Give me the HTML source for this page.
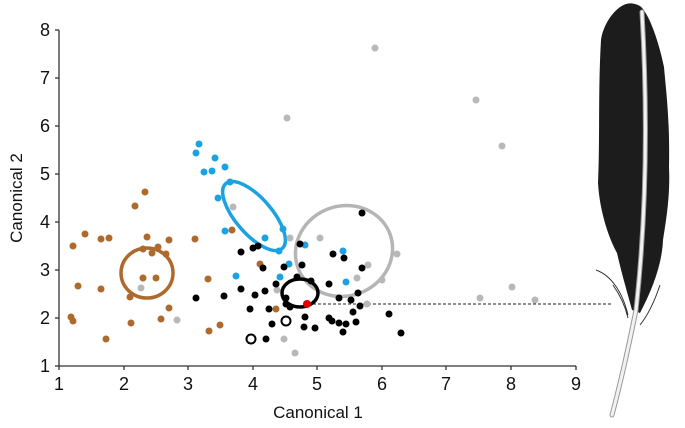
<!DOCTYPE html>
<html><head><meta charset="utf-8"><style>
html,body{margin:0;padding:0;background:#fff;}
svg{display:block;font-family:"Liberation Sans",Arial,sans-serif;}
</style></head><body>
<svg width="685" height="428" viewBox="0 0 685 428" xmlns="http://www.w3.org/2000/svg">
<g stroke="#333" stroke-width="1.3" fill="none">
<line x1="59" y1="30" x2="59" y2="366"/>
<line x1="59" y1="366" x2="576" y2="366"/>
<line x1="55" y1="30" x2="59" y2="30"/><line x1="55" y1="78" x2="59" y2="78"/><line x1="55" y1="126" x2="59" y2="126"/><line x1="55" y1="174" x2="59" y2="174"/><line x1="55" y1="222" x2="59" y2="222"/><line x1="55" y1="270" x2="59" y2="270"/><line x1="55" y1="318" x2="59" y2="318"/><line x1="55" y1="366" x2="59" y2="366"/>
<line x1="59" y1="366" x2="59" y2="370"/><line x1="124" y1="366" x2="124" y2="370"/><line x1="188" y1="366" x2="188" y2="370"/><line x1="253" y1="366" x2="253" y2="370"/><line x1="317" y1="366" x2="317" y2="370"/><line x1="382" y1="366" x2="382" y2="370"/><line x1="446" y1="366" x2="446" y2="370"/><line x1="511" y1="366" x2="511" y2="370"/><line x1="576" y1="366" x2="576" y2="370"/>
</g>
<g font-size="18" fill="#111" text-anchor="end">
<text x="50" y="36">8</text><text x="50" y="84">7</text><text x="50" y="132">6</text><text x="50" y="180">5</text><text x="50" y="228">4</text><text x="50" y="276">3</text><text x="50" y="324">2</text><text x="50" y="372">1</text>
</g>
<g font-size="18" fill="#111" text-anchor="middle">
<text x="59" y="390">1</text><text x="124" y="390">2</text><text x="188" y="390">3</text><text x="253" y="390">4</text><text x="317" y="390">5</text><text x="382" y="390">6</text><text x="446" y="390">7</text><text x="511" y="390">8</text><text x="576" y="390">9</text>
</g>
<g font-size="17" fill="#111" text-anchor="middle">
<text x="318" y="418">Canonical 1</text>
<text transform="translate(22,198) rotate(-90)">Canonical 2</text>
</g>
<line x1="308" y1="304" x2="612" y2="304" stroke="#222" stroke-width="1" stroke-dasharray="3,2"/>
<ellipse cx="147" cy="273" rx="26" ry="25" fill="none" stroke="#ad6a2c" stroke-width="3.5"/>
<ellipse cx="254" cy="216" rx="43" ry="18" transform="rotate(49 254 216)" fill="none" stroke="#1aa3e0" stroke-width="3.5"/>
<ellipse cx="344" cy="251" rx="49" ry="45" transform="rotate(-20 344 251)" fill="none" stroke="#b5b5b5" stroke-width="3.5"/>
<ellipse cx="300" cy="293" rx="18" ry="14" fill="none" stroke="#000" stroke-width="3.5"/>
<g fill="#ad6a2c">
<circle cx="73" cy="246" r="3.5"/><circle cx="78" cy="286" r="3.5"/><circle cx="71" cy="317" r="3.5"/><circle cx="73" cy="321" r="3.5"/><circle cx="85" cy="234" r="3.5"/><circle cx="101" cy="239" r="3.5"/><circle cx="109" cy="238" r="3.5"/><circle cx="101" cy="289" r="3.5"/><circle cx="106" cy="339" r="3.5"/><circle cx="135" cy="206" r="3.5"/><circle cx="145" cy="192" r="3.5"/><circle cx="147" cy="237" r="3.5"/><circle cx="143" cy="249" r="3.5"/><circle cx="152" cy="253" r="3.5"/><circle cx="158" cy="247" r="3.5"/><circle cx="166" cy="254" r="3.5"/><circle cx="143" cy="278" r="3.5"/><circle cx="156" cy="278" r="3.5"/><circle cx="130" cy="297" r="3.5"/><circle cx="131" cy="323" r="3.5"/><circle cx="161" cy="319" r="3.5"/><circle cx="169" cy="308" r="3.5"/><circle cx="169" cy="240" r="3.5"/><circle cx="195" cy="239" r="3.5"/><circle cx="208" cy="279" r="3.5"/><circle cx="209" cy="331" r="3.5"/><circle cx="220" cy="325" r="3.5"/><circle cx="232" cy="230" r="3.5"/><circle cx="260" cy="264" r="3.5"/><circle cx="276" cy="309" r="3.5"/>
</g>
<g fill="#b8b8b8">
<circle cx="141" cy="288" r="3.5"/><circle cx="177" cy="320" r="3.5"/><circle cx="233" cy="207" r="3.5"/><circle cx="290" cy="238" r="3.5"/><circle cx="320" cy="238" r="3.5"/><circle cx="368" cy="265" r="3.5"/><circle cx="397" cy="254" r="3.5"/><circle cx="357" cy="278" r="3.5"/><circle cx="382" cy="280" r="3.5"/><circle cx="367" cy="304" r="3.5"/><circle cx="284" cy="339" r="3.5"/><circle cx="295" cy="353" r="3.5"/><circle cx="277" cy="290" r="3.5"/><circle cx="287" cy="118" r="3.5"/><circle cx="375" cy="48" r="3.5"/><circle cx="476" cy="100" r="3.5"/><circle cx="502" cy="146" r="3.5"/><circle cx="512" cy="287" r="3.5"/><circle cx="480" cy="298" r="3.5"/><circle cx="535" cy="300" r="3.5"/>
</g>
<g fill="#1aa3e0">
<circle cx="199" cy="144" r="3.5"/><circle cx="196" cy="153" r="3.5"/><circle cx="215" cy="158" r="3.5"/><circle cx="225" cy="167" r="3.5"/><circle cx="204" cy="172" r="3.5"/><circle cx="212" cy="171" r="3.5"/><circle cx="230" cy="182" r="3.5"/><circle cx="218" cy="198" r="3.5"/><circle cx="225" cy="231" r="3.5"/><circle cx="236" cy="276" r="3.5"/><circle cx="265" cy="238" r="3.5"/><circle cx="283" cy="229" r="3.5"/><circle cx="279" cy="251" r="3.5"/><circle cx="289" cy="264" r="3.5"/><circle cx="280" cy="277" r="3.5"/><circle cx="305" cy="245" r="3.5"/><circle cx="343" cy="251" r="3.5"/><circle cx="346" cy="282" r="3.5"/>
</g>
<g fill="#000">
<circle cx="196" cy="298" r="3.5"/><circle cx="224" cy="296" r="3.5"/><circle cx="241" cy="252" r="3.5"/><circle cx="253" cy="248" r="3.5"/><circle cx="258" cy="246" r="3.5"/><circle cx="263" cy="268" r="3.5"/><circle cx="241" cy="289" r="3.5"/><circle cx="255" cy="295" r="3.5"/><circle cx="265" cy="291" r="3.5"/><circle cx="276" cy="284" r="3.5"/><circle cx="250" cy="309" r="3.5"/><circle cx="269" cy="309" r="3.5"/><circle cx="272" cy="324" r="3.5"/><circle cx="266" cy="339" r="3.5"/><circle cx="284" cy="267" r="3.5"/><circle cx="300" cy="244" r="3.5"/><circle cx="302" cy="265" r="3.5"/><circle cx="297" cy="277" r="3.5"/><circle cx="311" cy="281" r="3.5"/><circle cx="290" cy="307" r="3.5"/><circle cx="305" cy="317" r="3.5"/><circle cx="304" cy="327" r="3.5"/><circle cx="315" cy="328" r="3.5"/><circle cx="329" cy="284" r="3.5"/><circle cx="333" cy="254" r="3.5"/><circle cx="344" cy="258" r="3.5"/><circle cx="362" cy="268" r="3.5"/><circle cx="362" cy="213" r="3.5"/><circle cx="339" cy="298" r="3.5"/><circle cx="351" cy="300" r="3.5"/><circle cx="358" cy="293" r="3.5"/><circle cx="360" cy="306" r="3.5"/><circle cx="353" cy="312" r="3.5"/><circle cx="329" cy="318" r="3.5"/><circle cx="332" cy="321" r="3.5"/><circle cx="339" cy="323" r="3.5"/><circle cx="346" cy="324" r="3.5"/><circle cx="356" cy="322" r="3.5"/><circle cx="343" cy="332" r="3.5"/><circle cx="389" cy="314" r="3.5"/><circle cx="401" cy="333" r="3.5"/><circle cx="286" cy="298" r="3.5"/><circle cx="286" cy="304" r="3.5"/>
</g>
<circle cx="286" cy="321" r="4.5" fill="#fff" stroke="#000" stroke-width="2"/>
<circle cx="251" cy="339" r="4.5" fill="#fff" stroke="#000" stroke-width="2"/>
<circle cx="307" cy="304" r="4" fill="#e00000"/>
<path d="M626,4 C614,8 603,25 601,40 C598,90 600,140 598,183 C600,215 610,240 617,253 C622,275 628,295 632,310 L640,313 C652,290 662,265 663,240 C668,210 670,190 669,167 C670,120 666,90 664,67 C658,38 648,12 640,6 C634,3 630,3 626,4 Z" fill="#1c1c1c"/>
<path d="M642,12 C648,120 646,220 636,310 C628,350 620,385 612,415" fill="none" stroke="#999" stroke-width="5" stroke-linecap="round"/>
<path d="M642,12 C648,120 646,220 636,310 C628,350 620,385 612,415" fill="none" stroke="#f2f2f2" stroke-width="3" stroke-linecap="round"/>
<path d="M596,270 C610,275 622,290 628,315 M613,285 C620,295 625,305 628,318 M660,285 C655,300 648,315 640,325" fill="none" stroke="#333" stroke-width="1"/>
</svg>
</body></html>
